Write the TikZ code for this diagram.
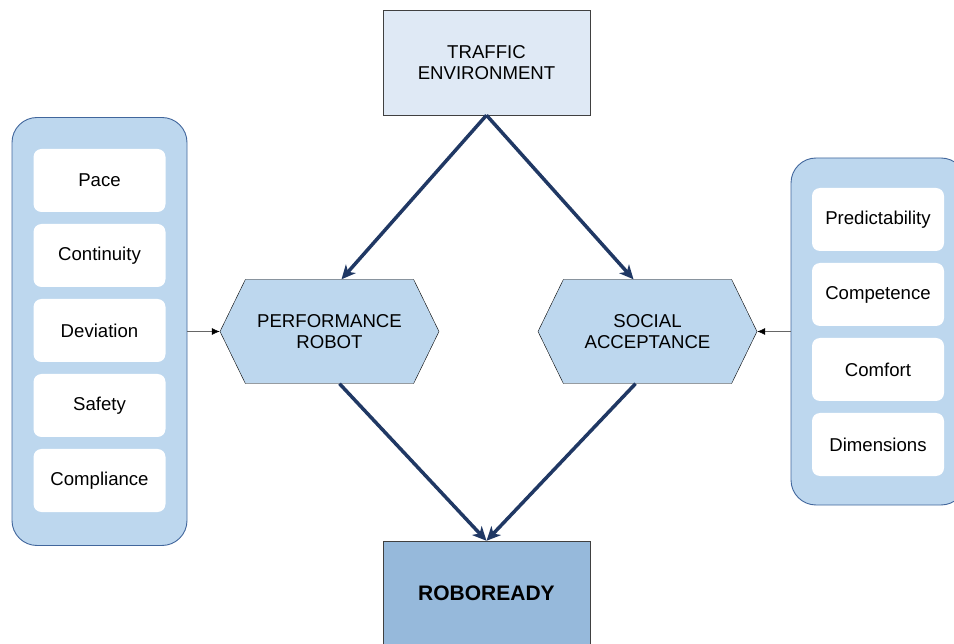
\documentclass[tikz,border=0pt]{standalone}
\usepackage{fontspec}
\setmainfont{Liberation Sans}
\usetikzlibrary{arrows.meta,shapes.symbols}
\definecolor{lightbox}{HTML}{DFE9F5}
\definecolor{panelblue}{HTML}{BDD7EE}
\definecolor{panelline}{HTML}{41669C}
\definecolor{readyblue}{HTML}{96B9DB}
\definecolor{flowblue}{HTML}{203864}

\begin{document}
\begin{tikzpicture}[x=1pt, y=-1pt,
    every node/.style={font=\fontsize{18.6}{21.5}\selectfont, align=center},
    box/.style={draw=black!75, rectangle, minimum width=207pt, minimum height=105pt, inner sep=0pt},
    hexa/.style={draw=black, fill=panelblue, signal, signal to=west and east,
      signal pointer angle=128, minimum width=219pt, minimum height=104pt, inner sep=0pt},
    panel/.style={draw=panelline, fill=panelblue, rounded corners=25pt, line width=0.9pt, inner sep=0pt},
    item/.style={fill=white, rounded corners=8pt, minimum width=132pt, minimum height=63pt, inner sep=0pt},
    flow/.style={draw=flowblue, line width=3.5pt, -{Stealth[length=14pt,width=13pt,inset=4pt]}},
    feed/.style={draw=black!60, line width=0.6pt, -{Latex[length=8pt,width=7pt,black]}}]
      \useasboundingbox (0,0) rectangle (954,644);
      \clip (0,0) rectangle (954,644);

      % side panels
      \node[panel, minimum width=175pt, minimum height=428pt] (LP) at (99.5, 331.5) {};
      \node[panel, minimum width=175pt, minimum height=347pt] (RP) at (878.5, 331.5) {};
      \foreach \txt [count=\i] in {Pace, Continuity, Deviation, Safety, Compliance}
        \node[item] (L\i) at (99.5, 105.5+75*\i) {\txt};
      \foreach \txt [count=\i] in {Predictability, Competence, Comfort, Dimensions}
        \node[item] (R\i) at (878, 144.5+75*\i) {\txt};

      % main nodes
      \node[box, fill=lightbox] (TE) at (486.5, 62.5) {TRAFFIC\\ENVIRONMENT};
      \node[hexa] (PR) at (329.5, 331.5) {PERFORMANCE\\ROBOT};
      \node[hexa] (SA) at (647.5, 331.5) {SOCIAL\\ACCEPTANCE};
      \node[box, fill=readyblue, font=\fontsize{21}{25}\selectfont\bfseries] (RR) at (486.5, 593.5) {ROBOREADY};

      \draw[flow] (TE.south) -- ([xshift=12pt]PR.north);
      \draw[flow] (TE.south) -- ([xshift=-14pt]SA.north);
      \draw[flow] ([xshift=10pt]PR.south) -- (RR.north);
      \draw[flow] ([xshift=-12pt]SA.south) -- (RR.north);
      \draw[feed] (LP.east) -- (PR.west);
      \draw[feed] (RP.west) -- (SA.east);
\end{tikzpicture}
\end{document}
